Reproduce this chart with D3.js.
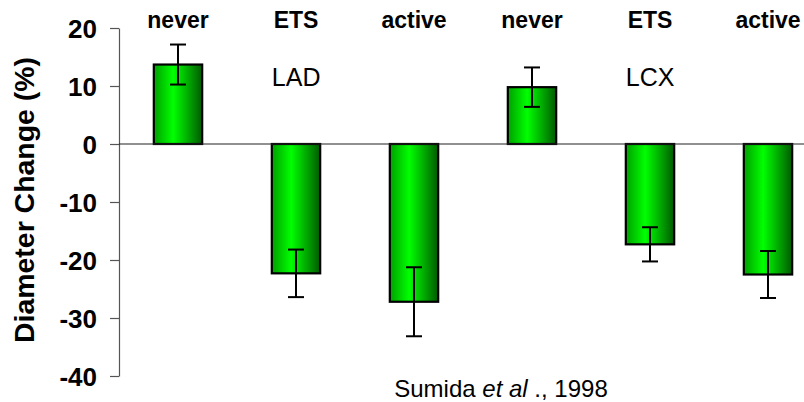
<!DOCTYPE html>
<html>
<head>
<meta charset="utf-8">
<script src="https://cdn.jsdelivr.net/npm/d3@7"></script>
<style>
  body { margin: 0; background: #fff; }
  svg { display: block; font-family: Arial, "Liberation Sans", sans-serif; }
</style>
</head>
<body>
<div id="chart"></div>
<script>
// smoking groups, LAD then LCX
var categories = ['never', 'ETS', 'active', 'never', 'ETS', 'active'];
var values = [13.7, -22.3, -27.2, 9.8, -17.3, -22.5];   // mean diameter change (%)
var errors = [3.45, 4.1, 5.95, 3.4, 2.95, 4.05];        // error bar half-length
var vessels = ['LAD', 'LCX'];                            // one label per group of three
var yTicks = [20, 10, 0, -10, -20, -30, -40];

var width = 804, height = 402;
var margin = {top: 28, right: -23, bottom: 26, left: 119};

var svg = d3.select('#chart').append('svg')
  .attr('width', width)
  .attr('height', height);

// bar gradient: dark edges, bright middle
var grad = svg.append('defs').append('linearGradient')
  .attr('id', 'barFill')
  .attr('x1', '0%').attr('x2', '100%').attr('y1', '0%').attr('y2', '0%');
grad.append('stop').attr('offset', '0%').attr('stop-color', '#00a000');
grad.append('stop').attr('offset', '40%').attr('stop-color', '#00ff00');
grad.append('stop').attr('offset', '100%').attr('stop-color', '#005a00');

var x = d3.scaleBand()
  .domain(d3.range(categories.length))
  .range([margin.left, width - margin.right])
  .paddingInner(0.59)
  .paddingOuter(0.295);

var y = d3.scaleLinear()
  .domain([-40, 20])
  .range([height - margin.bottom, margin.top]);

// y axis (plain hyphen for negatives)
var yAxis = svg.append('g')
  .attr('transform', 'translate(' + margin.left + ',0)')
  .call(d3.axisLeft(y).tickValues(yTicks)
    .tickFormat(function(d) { return String(d); })
    .tickSize(9).tickPadding(13).tickSizeOuter(0));
yAxis.select('.domain').attr('stroke', '#555').attr('stroke-width', 1.2);
yAxis.selectAll('.tick line').attr('stroke', '#555').attr('stroke-width', 1.2);
yAxis.selectAll('.tick text')
  .attr('font-family', 'Arial, "Liberation Sans", sans-serif')
  .attr('font-size', 26)
  .attr('font-weight', 'bold')
  .attr('fill', '#000')
  .attr('dy', '0.36em');

// axis title
svg.append('text')
  .attr('transform', 'translate(34,200) rotate(-90)')
  .attr('text-anchor', 'middle')
  .attr('font-size', 27)
  .attr('font-weight', 'bold')
  .attr('textLength', 286)
  .attr('lengthAdjust', 'spacingAndGlyphs')
  .text('Diameter Change (%)');

// bars
svg.selectAll('rect.bar')
  .data(values)
  .enter().append('rect')
    .attr('class', 'bar')
    .attr('x', function(d, i) { return x(i); })
    .attr('y', function(d) { return y(Math.max(0, d)); })
    .attr('width', x.bandwidth())
    .attr('height', function(d) { return Math.abs(y(d) - y(0)); })
    .attr('fill', 'url(#barFill)')
    .attr('stroke', '#000')
    .attr('stroke-width', 2.2);

// zero line
svg.append('line')
  .attr('x1', margin.left).attr('x2', width)
  .attr('y1', y(0)).attr('y2', y(0))
  .attr('stroke', '#222')
  .attr('stroke-width', 1.2);

// error bars
var capW = 8;
var err = svg.selectAll('g.err')
  .data(values)
  .enter().append('g')
    .attr('class', 'err')
    .attr('stroke', '#000')
    .attr('stroke-width', 2);
err.append('line')
  .attr('x1', function(d, i) { return x(i) + x.bandwidth() / 2; })
  .attr('x2', function(d, i) { return x(i) + x.bandwidth() / 2; })
  .attr('y1', function(d, i) { return y(d + errors[i]); })
  .attr('y2', function(d, i) { return y(d - errors[i]); });
err.append('line')
  .attr('x1', function(d, i) { return x(i) + x.bandwidth() / 2 - capW; })
  .attr('x2', function(d, i) { return x(i) + x.bandwidth() / 2 + capW; })
  .attr('y1', function(d, i) { return y(d + errors[i]); })
  .attr('y2', function(d, i) { return y(d + errors[i]); });
err.append('line')
  .attr('x1', function(d, i) { return x(i) + x.bandwidth() / 2 - capW; })
  .attr('x2', function(d, i) { return x(i) + x.bandwidth() / 2 + capW; })
  .attr('y1', function(d, i) { return y(d - errors[i]); })
  .attr('y2', function(d, i) { return y(d - errors[i]); });

// category labels along the top
svg.selectAll('text.cat')
  .data(categories)
  .enter().append('text')
    .attr('class', 'cat')
    .attr('x', function(d, i) { return x(i) + x.bandwidth() / 2; })
    .attr('y', 28)
    .attr('text-anchor', 'middle')
    .attr('font-size', 23)
    .attr('font-weight', 'bold')
    .text(function(d) { return d; });

// vessel labels over the ETS bar of each group
svg.selectAll('text.vessel')
  .data(vessels)
  .enter().append('text')
    .attr('class', 'vessel')
    .attr('x', function(d, i) { return x(i * 3 + 1); })
    .attr('y', 86)
    .attr('font-size', 25)
    .text(function(d) { return d; });

// source
var src = svg.append('text')
  .attr('x', 501)
  .attr('y', 397)
  .attr('text-anchor', 'middle')
  .attr('font-size', 24);
src.append('tspan').text('Sumida ');
src.append('tspan').attr('font-style', 'italic').text('et al');
src.append('tspan').text(' ., 1998');
</script>
</body>
</html>
